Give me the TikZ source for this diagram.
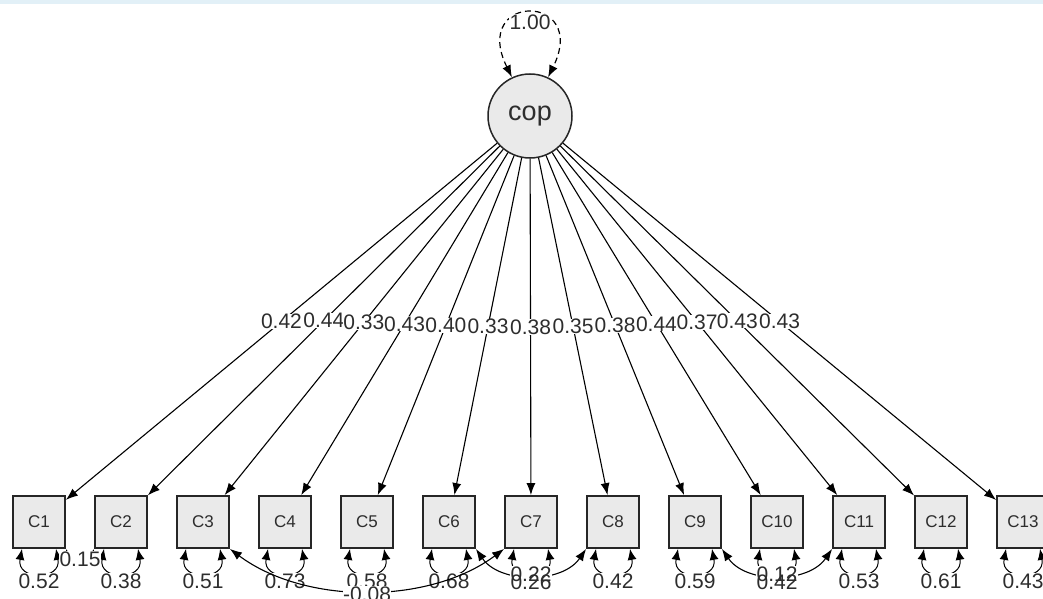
\documentclass[tikz,border=0pt]{standalone}
\usepackage{fontspec}
\setmainfont{Liberation Sans}
\usetikzlibrary{arrows.meta}
\definecolor{nodegray}{RGB}{234,234,234}
\definecolor{topblue}{RGB}{226,240,247}
\definecolor{txt}{RGB}{45,45,45}
\tikzset{
  manifest/.style={draw=black!85, fill=nodegray, line width=1.8pt, minimum width=52pt, minimum height=52pt, inner sep=0pt, font=\fontsize{17}{17}\selectfont, text=txt},
  latent/.style={draw=black!85, fill=nodegray, circle, line width=1.5pt, minimum size=84pt, inner sep=0pt, font=\fontsize{27}{27}\selectfont, text=txt},
  load/.style={line width=1.1pt, -{Latex[length=12pt,width=9pt]}},
  resid/.style={line width=1.0pt, {Latex[length=11pt,width=9pt]}-{Latex[length=11pt,width=9pt]}},
  cov/.style={line width=1.1pt, {Latex[length=12pt,width=9pt]}-{Latex[length=12pt,width=9pt]}},
  lbl/.style={fill=white, inner sep=0.2pt, font=\fontsize{21}{21}\selectfont, text=txt},
  rlbl/.style={inner sep=0.2pt, font=\fontsize{21}{21}\selectfont, text=txt},
}
\begin{document}
\begin{tikzpicture}[x=1pt,y=-1pt]
\useasboundingbox (0,0) rectangle (1043,599);
\clip (0,0) rectangle (1043,599);
\fill[white] (0,0) rectangle (1043,599);
\fill[topblue] (0,0) rectangle (1043,4);

\node[latent] (cop) at (530,116) {cop};
\foreach \i in {1,...,13}{
  \node[manifest] (C\i) at ({39+82*(\i-1)},522) {C\i};
}

% self loop of latent
\draw[dash pattern=on 6pt off 4pt, line width=1.2pt, {Latex[length=12pt,width=9pt]}-{Latex[length=12pt,width=9pt]}]
  (cop.115) .. controls +(-42,-85) and +(42,-85) .. (cop.65);
\node[lbl] (v0) at (530,22) {1.00};

% residual loops
\foreach \i in {1,...,13}{
  \draw[resid] ([xshift=-17pt]C\i.south) .. controls +(-6,32) and +(6,32) .. ([xshift=17pt]C\i.south);
}

% loadings
\foreach \i/\v in {1/0.42,2/0.44,3/0.33,4/0.43,5/0.40,6/0.33,7/0.38,8/0.35,9/0.38,10/0.44,11/0.37,12/0.43,13/0.43}{
  \draw[load] (cop) -- node[lbl] (l\i) {\v} (C\i);
}

% residual labels (white background)
\foreach \i/\v in {1/0.52,2/0.38,3/0.51,4/0.73,5/0.58,6/0.68,8/0.42,9/0.59,11/0.53,12/0.61,13/0.43}{
  \node[lbl] (r\i) at ({39+82*(\i-1)},581) {\v};
}

% covariances
\draw[cov] (C1.south east) .. controls +(6,14) and +(-6,14) .. (C2.south west);
\node[lbl] (k12) at (80,559) {0.15};
\draw[cov] (C3.south east) .. controls +(75,56) and +(-75,56) .. (C7.south west);
\node[lbl] (k37) at (367,594) {-0.08};
\draw[cov] (C6.south east) .. controls +(24,35) and +(-24,35) .. (C8.south west);
\node[lbl] (k68) at (531,574) {0.22};
\draw[cov] (C9.south east) .. controls +(24,35) and +(-24,35) .. (C11.south west);
\node[lbl] (k911) at (777,574) {0.12};

% overlapping residual labels (no background)
\node[rlbl] (r7) at (531,582) {0.26};
\node[rlbl] (r10) at (777,582) {0.42};
\end{tikzpicture}
\end{document}
